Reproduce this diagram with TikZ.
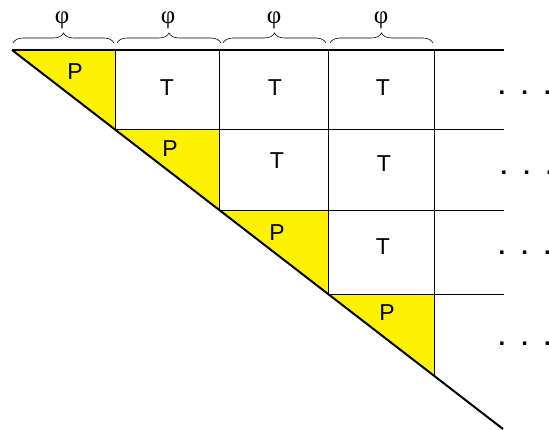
\documentclass[tikz,border=0pt]{standalone}
\usepackage{fontspec}
\setmainfont{Liberation Sans}
\newfontfamily\phifont{Liberation Serif}
\usetikzlibrary{decorations.pathreplacing}
\begin{document}
\begin{tikzpicture}[x=1pt,y=-1pt,
  grid line/.style={line width=0.8pt},
  heavy line/.style={line width=2pt},
  pcell/.style={fill=yellow},
  cell label/.style={font=\fontsize{23}{23}\selectfont, inner sep=0pt},
  phi label/.style={font=\phifont\fontsize{25}{25}\selectfont, inner sep=0pt},
  dots/.style={font=\bfseries\fontsize{24}{24}\selectfont, inner sep=0pt, anchor=base west},
  colbrace/.style={decorate, decoration={brace, amplitude=10pt}, line width=0.6pt}]
\useasboundingbox (0,0) rectangle (549,430);

% top edge and corners on the diagonal
\coordinate (t0) at (12,50);
\coordinate (t1) at (115,50);
\coordinate (t2) at (219,50);
\coordinate (t3) at (328,50);
\coordinate (t4) at (434,50);
\coordinate (d1) at (115,129.6);
\coordinate (d2) at (219,210);
\coordinate (d3) at (328,294.5);
\coordinate (d4) at (434,376);
\coordinate (dend) at (503,429);
% right ends of the row lines
\coordinate (r0) at (504,50);
\coordinate (r1) at (504,129.6);
\coordinate (r2) at (504,210);
\coordinate (r3) at (504,294.5);

% yellow P triangles
\fill[pcell] (t0) -- (t1) -- (d1) -- cycle;
\fill[pcell] (d1) -- (d1 -| t2) -- (d2) -- cycle;
\fill[pcell] (d2) -- (d2 -| t3) -- (d3) -- cycle;
\fill[pcell] (d3) -- (d3 -| t4) -- (d4) -- cycle;

% grid
\draw[grid line] (t1) -- (d1);
\draw[grid line] (t2) -- (d2);
\draw[grid line] (t3) -- (d3);
\draw[grid line] (t4) -- (d4);
\draw[grid line] (d1) -- (r1);
\draw[grid line] (d2) -- (r2);
\draw[grid line] (d3) -- (r3);
\draw[heavy line] (t0) -- (r0);
\draw[heavy line] (t0) -- (dend);

% braces over the columns
\draw[colbrace] (13,43) -- (114,43);
\draw[colbrace] (117,43) -- (221,43);
\draw[colbrace] (223,43) -- (326,43);
\draw[colbrace] (330,43) -- (433,43);
\node[phi label] (phi1) at (62,20) {φ};
\node[phi label] (phi2) at (168,20) {φ};
\node[phi label] (phi3) at (274,20) {φ};
\node[phi label] (phi4) at (381,20) {φ};

% cell labels
\node[cell label] (p1) at (75,72) {P};
\node[cell label] (t12) at (167,88) {T};
\node[cell label] (t13) at (275,88) {T};
\node[cell label] (t14) at (383,88) {T};
\node[cell label] (p2) at (170,149) {P};
\node[cell label] (t23) at (277,161) {T};
\node[cell label] (t24) at (384,164) {T};
\node[cell label] (p3) at (277,233) {P};
\node[cell label] (t34) at (383,247) {T};
\node[cell label] (p4) at (387,313) {P};

% continuation dots
\node[dots] (dots1) at (498.5,95) {.\hspace{16pt}.\hspace{16pt}.};
\node[dots] (dots2) at (500.5,175) {.\hspace{16pt}.\hspace{16pt}.};
\node[dots] (dots3) at (498.5,255) {.\hspace{16pt}.\hspace{16pt}.};
\node[dots] (dots4) at (498.5,345) {.\hspace{16pt}.\hspace{16pt}.};
\end{tikzpicture}
\end{document}
